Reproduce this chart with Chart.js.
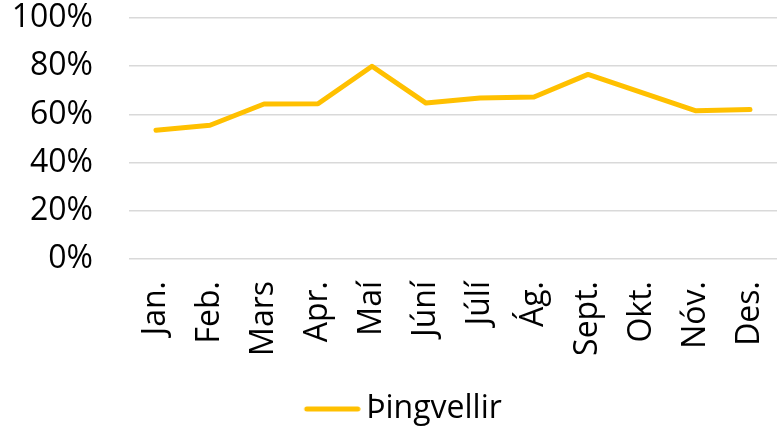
<!DOCTYPE html>
<html>
<head>
<meta charset="utf-8">
<script src="https://cdn.jsdelivr.net/npm/chart.js@4"></script>
<style>
  html, body { margin: 0; padding: 0; background: #fff; }
  #wrap { width: 777px; height: 427px; }
</style>
</head>
<body>
<div id="wrap"><canvas id="chart" width="777" height="427"></canvas></div>
<script>
const manudir = ["Jan.", "Feb.", "Mars", "Apr.", "Maí", "Júní", "Júlí", "Ág.", "Sept.", "Okt.", "Nóv.", "Des."];
const thingvellir = [53.4, 55.5, 64.3, 64.4, 80.0, 64.7, 66.8, 67.2, 76.6, 69.0, 61.5, 62.0];
const ytikk = [0, 20, 40, 60, 80, 100];

const letur = "'Open Sans', sans-serif";
const gulur = "#FFC000";

// línan í skýringunni, teiknuð á litla striga svo hún liggi nær textanum
const lina = document.createElement("canvas");
lina.width = 96;
lina.height = 8;
const lctx = lina.getContext("2d");
lctx.strokeStyle = gulur;
lctx.lineWidth = 5;
lctx.lineCap = "round";
lctx.beginPath();
lctx.moveTo(42, 4);
lctx.lineTo(93, 4);
lctx.stroke();

new Chart(document.getElementById("chart"), {
  type: "line",
  data: {
    labels: manudir,
    datasets: [{
      label: "Þingvellir",
      data: thingvellir,
      borderColor: gulur,
      backgroundColor: gulur,
      borderWidth: 5,
      borderCapStyle: "round",
      borderJoinStyle: "round",
      pointRadius: 0,
      tension: 0
    }]
  },
  options: {
    responsive: false,
    animation: false,
    layout: { padding: { top: 6, left: 0, right: 0, bottom: -8 } },
    plugins: {
      legend: {
        position: "bottom",
        labels: {
          usePointStyle: true,
          pointStyle: lina,
          pointStyleWidth: 75,
          color: "#000",
          font: { family: letur, size: 32 },
          padding: 2
        }
      },
      tooltip: { enabled: false }
    },
    scales: {
      x: {
        offset: true,
        grid: { display: false, drawTicks: false },
        border: { display: false },
        ticks: {
          color: "#000",
          font: { family: letur, size: 32 },
          minRotation: 90,
          maxRotation: 90,
          padding: 22,
          autoSkip: false
        },
        afterFit(s) { s.paddingLeft = 0; s.paddingRight = 0; s.height = 132; }
      },
      y: {
        min: 0,
        max: 100,
        afterBuildTicks(s) { s.ticks = ytikk.map(v => ({ value: v })); },
        grid: { color: "#d9d9d9", lineWidth: 1.5, drawTicks: false },
        border: { display: false },
        ticks: {
          color: "#000",
          font: { family: letur, size: 32 },
          padding: 36,
          callback: v => v + "%"
        },
        afterFit(s) { s.width = 129; s.paddingTop = 18; s.paddingBottom = 0; }
      }
    }
  }
});
</script>
</body>
</html>
